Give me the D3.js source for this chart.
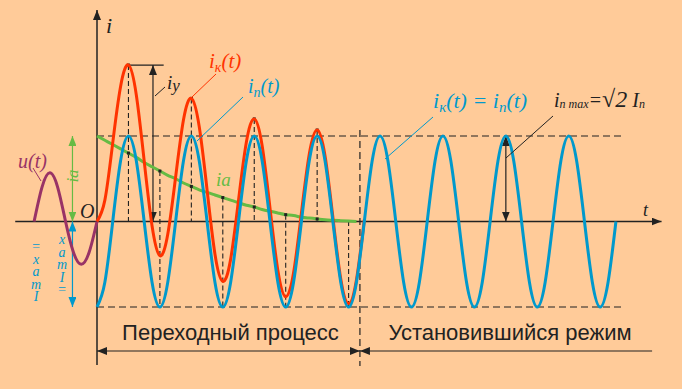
<!DOCTYPE html>
<html>
<head>
<meta charset="utf-8">
<script src="https://cdn.jsdelivr.net/npm/d3@7"></script>
<style>
body { margin: 0; background: #ffcb99; }
svg { display: block; }
.upright { writing-mode: vertical-rl; text-orientation: upright; }
</style>
</head>
<body>
<div id="chart-area"></div>
<script>
// samples every 1/8 of the 20 ms period, values in units of In max
var step = 2.5;

// steady-state current in(t)
var inValues = [-1, -0.71, 0, 0.71, 1, 0.71, 0, -0.71,
    -1, -0.71, 0, 0.71, 1, 0.71, 0, -0.71,
    -1, -0.71, 0, 0.71, 1, 0.71, 0, -0.71,
    -1, -0.71, 0, 0.71, 1, 0.71, 0, -0.71,
    -1, -0.71, 0, 0.71, 1, 0.71, 0, -0.71,
    -1, -0.71, 0, 0.71, 1, 0.71, 0, -0.71,
    -1, -0.71, 0, 0.71, 1, 0.71, 0, -0.71,
    -1, -0.71, 0, 0.71, 1, 0.71, 0, -0.71,
    -1, -0.71, 0];

// aperiodic component ia(t)
var iaValues = [1.00, 0.95, 0.90, 0.85, 0.80, 0.75, 0.69, 0.64,
    0.59, 0.54, 0.50, 0.45, 0.41, 0.37, 0.34, 0.31,
    0.28, 0.25, 0.22, 0.19, 0.17, 0.14, 0.12, 0.10,
    0.08, 0.07, 0.05, 0.04, 0.03, 0.02, 0.015, 0.01,
    0.005, 0];

// short-circuit current iк(t)
var ikValues = [0, 0.25, 0.92, 1.58, 1.83, 1.48, 0.71, -0.05,
    -0.40, -0.15, 0.52, 1.19, 1.44, 1.11, 0.37, -0.38,
    -0.70, -0.44, 0.25, 0.93, 1.20, 0.89, 0.16, -0.57,
    -0.88, -0.60, 0.10, 0.79, 1.07, 0.77, 0.05, -0.67,
    -0.96, -0.68, 0.02];

// voltage u(t) before the fault, starting at -20 ms
var uStart = -20;
var uValues = [0, 0.40, 0.57, 0.40, 0, -0.36, -0.50, -0.36, 0];

// half-period samples marked with construction lines
var peakIdx = [4, 12, 20, 28];
var troughIdx = [8, 16, 24, 32];
var tTransient = 83.6;

var width = 682, height = 389;
var ink = "#222";
var red = "#ff3300", blue = "#0099cc", green = "#66bb44", purple = "#993366";
var serif = "'Liberation Serif', 'DejaVu Serif', serif";
var sans = "'Liberation Sans', Arial, sans-serif";

var svg = d3.select("#chart-area").append("svg")
    .attr("width", width)
    .attr("height", height);

svg.append("rect").attr("width", width).attr("height", height).attr("fill", "#ffcb99");

var x = d3.scaleLinear().domain([0, 20]).range([97, 159.9]);
var y = d3.scaleLinear().domain([-1, 1]).range([307, 136]);

var defs = svg.append("defs");
function marker(id, color) {
    defs.append("marker")
        .attr("id", id)
        .attr("viewBox", "0 0 10 8")
        .attr("refX", 10).attr("refY", 4)
        .attr("markerWidth", 10).attr("markerHeight", 8)
        .attr("markerUnits", "userSpaceOnUse")
        .attr("orient", "auto-start-reverse")
        .append("path").attr("d", "M0,0L10,4L0,8Z").attr("fill", color);
}
marker("arK", ink);
marker("arG", green);
marker("arB", blue);

var g = svg.append("g");

function line(x1, y1, x2, y2, color, w, dash) {
    return g.append("line")
        .attr("x1", x1).attr("y1", y1).attr("x2", x2).attr("y2", y2)
        .attr("stroke", color).attr("stroke-width", w)
        .attr("stroke-dasharray", dash || null);
}

// axes
line(x(-26), y(0), x(179.5), y(0), ink, 1.5).attr("marker-end", "url(#arK)");
line(x(0), 365, x(0), 10, ink, 1.5).attr("marker-end", "url(#arK)");

// amplitude levels and transient boundary
line(x(0), y(1), x(167), y(1), ink, 1.2, "7,4");
line(x(0), y(-1), x(167), y(-1), ink, 1.2, "7,4");
line(x(tTransient), 130, x(tTransient), 366, ink, 1.2, "7,4");

// construction lines at half periods
peakIdx.forEach(function (k) {
    line(x(k * step), y(ikValues[k]), x(k * step), y(0), ink, 1.1, "5,3");
    g.append("rect").attr("x", x(k * step) - 1.5).attr("y", y(ikValues[k]) - 1.5)
        .attr("width", 3).attr("height", 3).attr("fill", ink);
});
troughIdx.forEach(function (k) {
    line(x(k * step), y(iaValues[Math.min(k, iaValues.length - 1)]), x(k * step), y(-1), ink, 1.1, "5,3");
});

// iy arrow
line(x(10), y(ikValues[4]), x(21.2), y(ikValues[4]), ink, 1.2);
line(x(17.8), y(ikValues[4]), x(17.8), y(0), ink, 1.2)
    .attr("marker-start", "url(#arK)").attr("marker-end", "url(#arK)");

// in max arrow
line(x(130), y(1), x(130), y(0), ink, 1.2)
    .attr("marker-start", "url(#arK)").attr("marker-end", "url(#arK)");

// left amplitude arrows
line(x(-7.8), y(1), x(-7.8), y(0), green, 1.2)
    .attr("marker-start", "url(#arG)").attr("marker-end", "url(#arG)");
line(x(-7.8), y(0), x(-7.8), y(-1), blue, 1.2)
    .attr("marker-start", "url(#arB)").attr("marker-end", "url(#arB)");

// bottom span arrows
line(x(0), 351, x(tTransient), 351, ink, 1.2)
    .attr("marker-start", "url(#arK)").attr("marker-end", "url(#arK)");
line(x(tTransient), 351, x(176.5), 351, ink, 1.2)
    .attr("marker-start", "url(#arK)");

// curves
var curve = d3.line()
    .x(function (d, i) { return x(i * step); })
    .y(function (d) { return y(d); })
    .curve(d3.curveNatural);

var uCurve = d3.line()
    .x(function (d, i) { return x(uStart + i * step); })
    .y(function (d) { return y(d); })
    .curve(d3.curveNatural);

g.append("path").attr("d", uCurve(uValues))
    .attr("fill", "none").attr("stroke", purple).attr("stroke-width", 3);
g.append("path").attr("d", curve(iaValues))
    .attr("fill", "none").attr("stroke", green).attr("stroke-width", 3);

// ia points
d3.range(4, 29, 4).forEach(function (k) {
    g.append("rect").attr("x", x(k * step) - 1.5).attr("y", y(iaValues[k]) - 1.5)
        .attr("width", 3).attr("height", 3).attr("fill", ink);
});

g.append("path").attr("d", curve(ikValues))
    .attr("fill", "none").attr("stroke", red).attr("stroke-width", 3);
g.append("path").attr("d", curve(inValues))
    .attr("fill", "none").attr("stroke", blue).attr("stroke-width", 3);

// leader lines
line(192, 97, 216, 74, red, 1);
line(197, 141, 243, 97, blue, 1);
line(385, 159, 433, 117, blue, 1);
line(506, 158, 553, 116, ink, 1);
line(155, 96, 165, 87, ink, 1);
line(33, 168, 41, 181, purple, 1);

// labels
function label(px, py, color, size, parts) {
    var t = g.append("text").attr("x", px).attr("y", py)
        .attr("fill", color).attr("font-family", serif)
        .attr("font-style", "italic").attr("font-size", size);
    parts.forEach(function (p) {
        t.append("tspan").text(p[0])
            .attr("font-size", p[1] || size)
            .attr("dy", p[2] || 0);
    });
    return t;
}

label(106, 33, ink, 22, [["i"]]);
label(643, 216, ink, 18, [["t"]]);
label(80, 218, ink, 20, [["O"]]);
label(209, 68, red, 21, [["i"], ["к", 14, 4], ["(t)", 21, -4]]);
label(248, 93, blue, 20, [["i"], ["п", 14, 4], ["(t)", 20, -4]]);
label(433, 108, blue, 22, [["i"], ["к", 15, 4], ["(t) = i", 22, -4], ["п", 15, 4], ["(t)", 22, -4]]);
label(554, 107, ink, 20, [["i"], ["п max", 12, 1], ["=", 20, -1], ["√2", 24], [" I", 20], ["п", 12, 1]]);
label(167, 89, ink, 19, [["i"], ["у", 17, 2]]);
label(216, 186, green, 19, [["i"], ["а", 19]]);
label(18, 168, purple, 20, [["u(t)"]]);

// rotated ia label beside the green arrow
g.append("text")
    .attr("transform", "translate(78,176) rotate(-90)")
    .attr("text-anchor", "middle")
    .attr("fill", green).attr("font-family", serif)
    .attr("font-style", "italic").attr("font-size", 17)
    .text("iа");

// stacked upright blue glyphs beside the blue arrow
function stack(px, py, str) {
    g.append("text")
        .attr("class", "upright")
        .attr("x", px).attr("y", py)
        .attr("fill", blue).attr("font-family", serif)
        .attr("font-style", "italic").attr("font-size", 14)
        .attr("letter-spacing", -2.5)
        .text(str);
}
stack(36, 239, "=xamI");
stack(62, 232, "xamI=");

// process names
g.append("text").attr("x", x(tTransient / 2) + 2).attr("y", 340)
    .attr("text-anchor", "middle").attr("fill", ink)
    .attr("font-family", sans).attr("font-size", 22)
    .text("Переходный процесс");
g.append("text").attr("x", 510).attr("y", 340)
    .attr("text-anchor", "middle").attr("fill", ink)
    .attr("font-family", sans).attr("font-size", 22)
    .text("Установившийся режим");
</script>
</body>
</html>
